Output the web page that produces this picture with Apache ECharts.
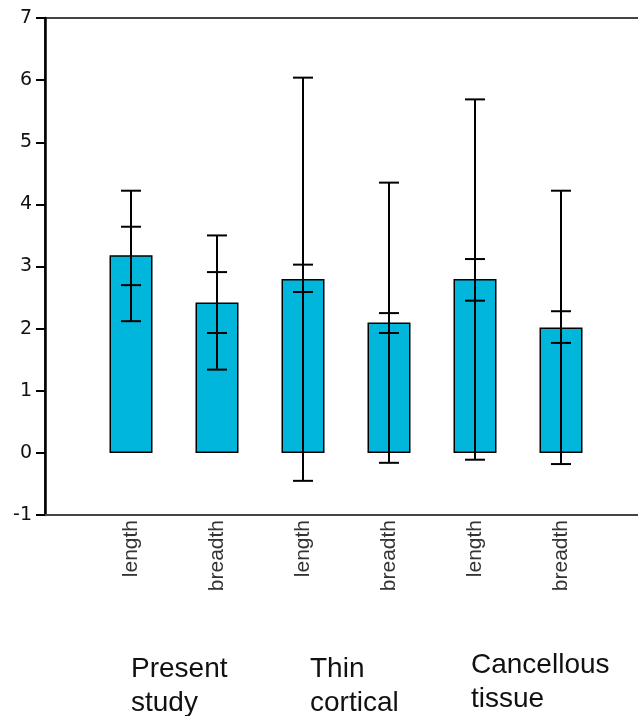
<!DOCTYPE html>
<html>
<head>
<meta charset="utf-8">
<script src="https://cdn.jsdelivr.net/npm/echarts@6/dist/echarts.min.js"></script>
<style>
html, body { margin: 0; padding: 0; background: #fff; }
#chart { width: 638px; height: 716px; }
</style>
</head>
<body>
<div id="chart"></div>
<script>
// categories (blank slots at both ends keep the axis running past the bars)
var categories = ['', 'length', 'breadth', 'length', 'breadth', 'length', 'breadth', ''];
var groups = ['Present\nstudy', 'Thin\ncortical', 'Cancellous\ntissue'];

// bar heights (mean)
var means = [3.18, 2.42, 2.80, 2.10, 2.80, 2.02];
// long whiskers
var outerLow = [2.12, 1.34, -0.45, -0.16, -0.11, -0.18];
var outerHigh = [4.22, 3.50, 6.04, 4.35, 5.69, 4.22];
// short whiskers
var innerLow = [2.70, 1.93, 2.59, 1.93, 2.45, 1.77];
var innerHigh = [3.64, 2.91, 3.03, 2.25, 3.12, 2.28];

var yTicks = { min: -1, max: 7, interval: 1 };

var barData = [null].concat(means).concat([null]);
function whiskerData(lo, hi) {
    return lo.map(function (v, i) { return [i + 1, v, hi[i]]; });
}

function renderWhisker(params, api) {
    var x = api.value(0);
    var top = api.coord([x, api.value(2)]);
    var bot = api.coord([x, api.value(1)]);
    var half = 10;
    var st = { stroke: '#000', lineWidth: 2 };
    return {
        type: 'group',
        children: [
            { type: 'line', shape: { x1: top[0], y1: top[1], x2: bot[0], y2: bot[1] }, style: st },
            { type: 'line', shape: { x1: top[0] - half, y1: top[1], x2: top[0] + half, y2: top[1] }, style: st },
            { type: 'line', shape: { x1: bot[0] - half, y1: bot[1], x2: bot[0] + half, y2: bot[1] }, style: st }
        ]
    };
}

var chart = echarts.init(document.getElementById('chart'));
var option = {
    animation: false,
    backgroundColor: '#fff',
    grid: {
        left: 45, top: 18, width: 602, height: 497,
        outerBoundsMode: 'none', containLabel: false,
        show: true, borderColor: '#444', borderWidth: 2, backgroundColor: 'transparent'
    },
    xAxis: {
        type: 'category',
        data: categories,
        boundaryGap: false,
        axisLine: { onZero: false, lineStyle: { color: '#444', width: 2 } },
        axisTick: { show: false },
        axisLabel: {
            rotate: 90, interval: 0, margin: 5,
            fontFamily: 'Liberation Sans', fontSize: 21, color: '#333'
        },
        splitLine: { show: false }
    },
    yAxis: {
        type: 'value',
        min: yTicks.min, max: yTicks.max, interval: yTicks.interval,
        axisLine: { show: true, lineStyle: { color: '#000', width: 2.5 } },
        axisTick: { show: true, length: 9, lineStyle: { color: '#000', width: 2 } },
        axisLabel: { fontFamily: 'DejaVu Sans', fontSize: 19, color: '#111', margin: 13 },
        splitLine: { show: false }
    },
    series: [
        {
            type: 'bar',
            data: barData,
            barWidth: 43,
            itemStyle: { color: '#00b6da', borderColor: '#000', borderWidth: 1.5 },
            z: 2
        },
        {
            type: 'custom',
            data: whiskerData(outerLow, outerHigh),
            renderItem: renderWhisker,
            z: 3
        },
        {
            type: 'custom',
            data: whiskerData(innerLow, innerHigh),
            renderItem: renderWhisker,
            z: 3
        }
    ],
    graphic: [
        { type: 'text', left: 131, top: 652, style: { text: groups[0], font: '28px "Liberation Sans"', lineHeight: 34, fill: '#111' } },
        { type: 'text', left: 310, top: 652, style: { text: groups[1], font: '28px "Liberation Sans"', lineHeight: 34, fill: '#111' } },
        { type: 'text', left: 471, top: 648, style: { text: groups[2], font: '28px "Liberation Sans"', lineHeight: 34, fill: '#111' } }
    ]
};
chart.setOption(option);
</script>
</body>
</html>
